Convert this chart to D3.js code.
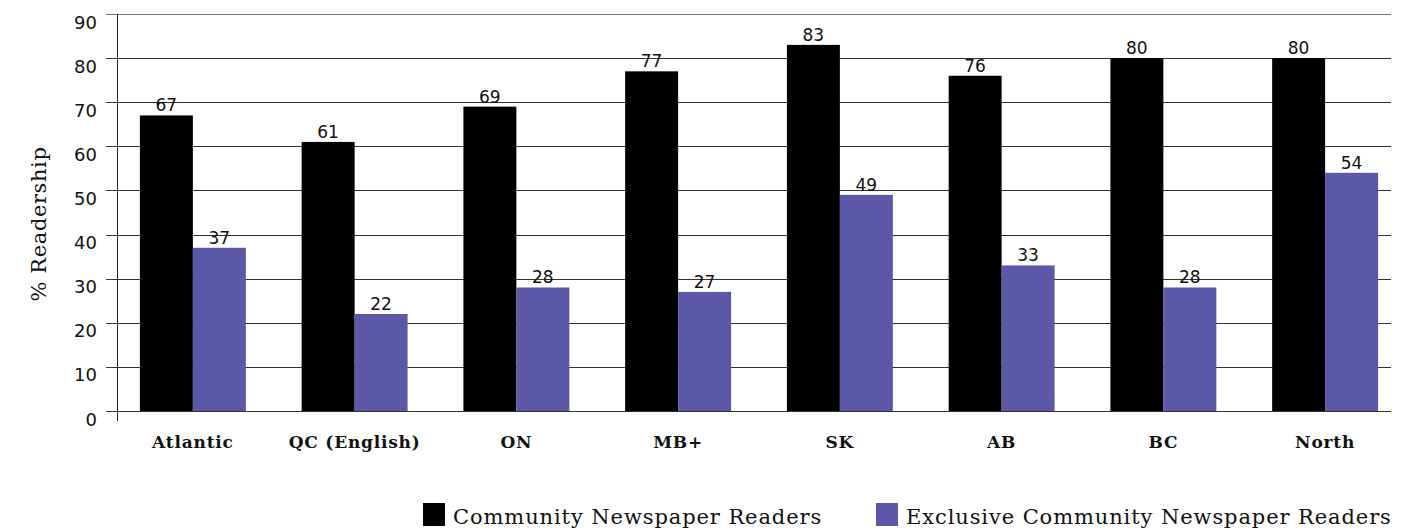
<!DOCTYPE html>
<html>
<head>
<meta charset="utf-8">
<script src="https://cdn.jsdelivr.net/npm/d3@7"></script>
<style>
  html, body { margin: 0; padding: 0; background: #fff; }
  svg { display: block; }
</style>
</head>
<body>
<svg id="chart" width="1423" height="530"></svg>
<script>
// Regions and readership percentages
const regions = ["Atlantic", "QC (English)", "ON", "MB+", "SK", "AB", "BC", "North"];
const communityReaders = [67, 61, 69, 77, 83, 76, 80, 80];
const exclusiveReaders = [37, 22, 28, 27, 49, 33, 28, 54];
const seriesNames = ["Community Newspaper Readers", "Exclusive Community Newspaper Readers"];
const seriesColors = ["#000000", "#5c57a6"];
const yTicks = [0, 10, 20, 30, 40, 50, 60, 70, 80, 90];

const svg = d3.select("#chart");

const plotLeft = 117, plotRight = 1391, plotTop = 14, plotBottom = 411;
const numberFont = "DejaVu Sans, Verdana, sans-serif";

const x = d3.scaleBand()
  .domain(regions)
  .range([112, 1406])
  .paddingInner(0.345)
  .paddingOuter(0.1725);

const xSeries = d3.scaleBand()
  .domain([0, 1])
  .range([0, x.bandwidth()]);

const y = d3.scaleLinear()
  .domain([0, 90])
  .range([plotBottom, plotTop]);

// Horizontal gridlines (they also act as the left tick marks)
svg.append("g")
  .selectAll("line")
  .data(yTicks)
  .join("line")
  .attr("x1", 106)
  .attr("x2", plotRight)
  .attr("y1", d => Math.round(y(d)) + 0.5)
  .attr("y2", d => Math.round(y(d)) + 0.5)
  .attr("stroke", d => d === 90 ? "#777" : "#333")
  .attr("stroke-width", 1);

// Y axis tick labels (set a little below their gridlines)
const yAxis = d3.axisLeft(y).tickValues(yTicks).tickSize(0).tickPadding(0);
const yg = svg.append("g")
  .attr("transform", "translate(97,0)")
  .call(yAxis);
yg.select(".domain").remove();
yg.selectAll("text")
  .attr("font-family", numberFont)
  .attr("font-size", 18)
  .attr("fill", "#111")
  .attr("dy", 14);

// Bars
const rows = regions.map((r, i) => ({ region: r, values: [communityReaders[i], exclusiveReaders[i]] }));

const groups = svg.append("g")
  .selectAll("g")
  .data(rows)
  .join("g")
  .attr("transform", d => `translate(${x(d.region)},0)`);

groups.selectAll("rect")
  .data(d => d.values.map((v, k) => ({ v, k })))
  .join("rect")
  .attr("x", d => xSeries(d.k))
  .attr("width", xSeries.bandwidth())
  .attr("y", d => y(d.v))
  .attr("height", d => y(0) - y(d.v))
  .attr("fill", d => seriesColors[d.k]);

// Value labels above bars
groups.selectAll("text")
  .data(d => d.values.map((v, k) => ({ v, k })))
  .join("text")
  .attr("x", d => xSeries(d.k) + xSeries.bandwidth() / 2)
  .attr("y", d => y(d.v) - 4)
  .attr("text-anchor", "middle")
  .attr("font-family", numberFont)
  .attr("font-size", 17)
  .attr("fill", "#111")
  .text(d => d.v);

// Vertical axis line
svg.append("line")
  .attr("x1", plotLeft + 0.5)
  .attr("x2", plotLeft + 0.5)
  .attr("y1", plotTop)
  .attr("y2", 421)
  .attr("stroke", "#222")
  .attr("stroke-width", 1);

// Category labels
const xAxis = d3.axisBottom(x).tickSize(0).tickPadding(0);
const xg = svg.append("g")
  .attr("transform", "translate(0,448)")
  .call(xAxis);
xg.select(".domain").remove();
xg.selectAll("text")
  .attr("dy", 0)
  .attr("font-family", "DejaVu Serif, serif")
  .attr("font-weight", "bold")
  .attr("font-size", 17)
  .attr("letter-spacing", 0.8)
  .attr("fill", "#111");

// Y axis title
svg.append("text")
  .attr("transform", "translate(46,224) rotate(-90)")
  .attr("text-anchor", "middle")
  .attr("font-family", "DejaVu Serif, serif")
  .attr("font-size", 21)
  .attr("letter-spacing", 0.6)
  .attr("fill", "#111")
  .text("% Readership");

// Legend
const legendItems = [
  { name: seriesNames[0], color: seriesColors[0], x: 423 },
  { name: seriesNames[1], color: seriesColors[1], x: 876 }
];
const lg = svg.append("g")
  .selectAll("g")
  .data(legendItems)
  .join("g")
  .attr("transform", d => `translate(${d.x},503)`);
lg.append("rect")
  .attr("width", 22)
  .attr("height", 23)
  .attr("fill", d => d.color);
lg.append("text")
  .attr("x", 30)
  .attr("y", 21)
  .attr("font-family", "DejaVu Serif, serif")
  .attr("font-size", 21)
  .attr("letter-spacing", 0.9)
  .attr("fill", "#111")
  .text(d => d.name);
</script>
</body>
</html>
